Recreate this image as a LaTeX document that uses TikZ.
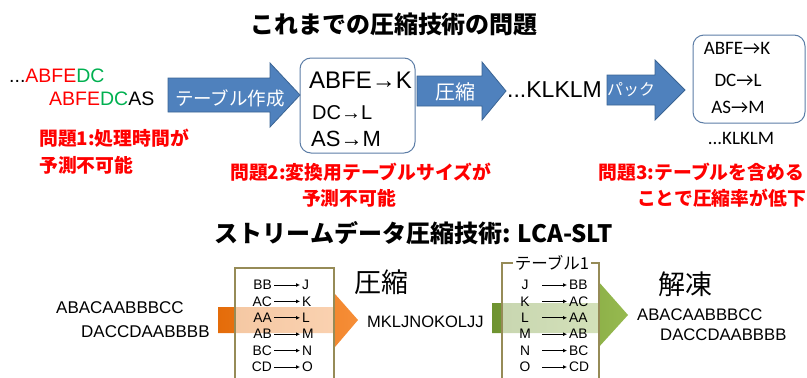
\documentclass[tikz,border=0pt]{standalone}
\usepackage{fontspec}
\setmainfont{Liberation Sans}
\newfontfamily\jp{Noto Sans CJK JP}
\newfontfamily\calfont{Carlito}
\usetikzlibrary{arrows.meta}
\definecolor{myred}{HTML}{FF0000}
\definecolor{mygreen}{HTML}{00B050}
\definecolor{arrowblue}{HTML}{4F81BD}
\definecolor{arrowblueline}{HTML}{3A6494}
\definecolor{boxline}{HTML}{5C7DA6}
\definecolor{tableline}{HTML}{968B57}
\definecolor{orangeL}{HTML}{E46C0A}
\definecolor{orangeR}{HTML}{F68E38}
\definecolor{greenL}{HTML}{6E9330}
\definecolor{greenR}{HTML}{97BA50}
\tikzset{
  titletext/.style={font=\jp\bfseries\fontsize{24}{28}\selectfont, inner sep=0pt},
  redtext/.style={font=\jp\bfseries\fontsize{18.8}{22}\selectfont, text=myred, inner sep=0pt},
  arrowlabel/.style={font=\jp\fontsize{18.5}{22}\selectfont, text=white, inner sep=0pt},
  bluearrow/.style={fill=arrowblue, draw=arrowblueline, line width=0.8pt},
  rbox/.style={draw=boxline, line width=1pt, rounded corners=11pt},
  tbox/.style={draw=tableline, line width=1.6pt, fill=white, fill opacity=0.62},
  tcell/.style={font=\fontsize{13.8}{15}\selectfont, inner sep=0pt},
  tarrow/.style={-{Latex[length=4pt,width=4pt]}, line width=0.8pt, shorten <=2pt, shorten >=2pt},
  seqtext/.style={font=\fontsize{17}{20}\selectfont, inner sep=0pt, anchor=west},
  bigjp/.style={font=\jp\fontsize{27}{30}\selectfont, inner sep=0pt},
  box2text/.style={inner sep=0pt, font=\calfont\fontsize{19}{21}\selectfont},
}
\begin{document}
\begin{tikzpicture}[x=1pt,y=-1pt]
\useasboundingbox (0,0) rectangle (807,378);

% ---------- top section ----------
\node[titletext] (title1) at (394,24) {これまでの圧縮技術の問題};

\node[anchor=west, inner sep=0pt, font=\fontsize{19.5}{22}\selectfont] (in1) at (9,76)
  {...{\color{myred}ABFE}{\color{mygreen}DC}};
\node[anchor=west, inner sep=0pt, font=\fontsize{19.5}{22}\selectfont] (in2) at (49,99)
  {{\color{myred}ABFE}{\color{mygreen}DC}AS};

% arrow 1
\filldraw[bluearrow] (168,78) -- (270,78) -- (270,63) -- (300,95) -- (270,127) -- (270,112) -- (168,112) -- cycle;
\node[arrowlabel] (a1) at (230,98) {テーブル作成};

% box 1
\draw[rbox] (300,58) rectangle (415,153);
\node[anchor=west, inner sep=0pt, font=\fontsize{24}{26}\selectfont] (b1r1) at (309,80) {ABFE→K};
\node[anchor=west, inner sep=0pt, font=\fontsize{20}{22}\selectfont] (b1r2) at (312,113) {DC→L};
\node[anchor=west, inner sep=0pt, font=\fontsize{22}{24}\selectfont] (b1r3) at (311,139) {AS→M};

% arrow 2
\filldraw[bluearrow] (417,76) -- (482,76) -- (482,62) -- (506,91) -- (482,120) -- (482,106) -- (417,106) -- cycle;
\node[arrowlabel, font=\jp\fontsize{20}{22}\selectfont] (a2) at (455,92) {圧縮};

\node[anchor=west, inner sep=0pt, font=\fontsize{23}{25}\selectfont] (klm) at (507,90) {...KLKLM};

% arrow 3
\filldraw[bluearrow] (607,75) -- (655,75) -- (655,60) -- (685,90) -- (655,120) -- (655,105) -- (607,105) -- cycle;
\node[arrowlabel, font=\jp\fontsize{16}{18}\selectfont] (a3) at (631,90) {パック};

% box 2
\draw[rbox] (693,35) rectangle (805,123);
\node[box2text] (b2r1) at (737,48) {ABFE→K};
\node[box2text] (b2r2) at (738,80) {DC→L};
\node[box2text] (b2r3) at (738,107) {AS→M};
\node[box2text] (b2r4) at (741,138) {...KLKLM};

% problems
\node[redtext, anchor=west] (p1a) at (39,138) {問題1:処理時間が};
\node[redtext, anchor=west] (p1b) at (39,165) {予測不可能};
\node[redtext, anchor=west] (p2a) at (230,172) {問題2:変換用テーブルサイズが};
\node[redtext] (p2b) at (349,198) {予測不可能};
\node[redtext, anchor=east] (p3a) at (804,172) {問題3:テーブルを含める};
\node[redtext, anchor=east] (p3b) at (806,198) {ことで圧縮率が低下};

% ---------- bottom section ----------
\node[titletext] (title2) at (414,233) {ストリームデータ圧縮技術: LCA-SLT};

\node[seqtext] (s1) at (56,308) {ABACAABBBCC};
\node[seqtext] (s2) at (81,332) {DACCDAABBBB};

% orange arrow
\shade[left color=orangeL, right color=orangeR] (218,307) -- (335,307) -- (335,294) -- (358,320) -- (335,347) -- (335,333) -- (218,333) -- cycle;

% table 1
\draw[tbox] (235,268) rectangle (334,390);
\foreach \i/\l/\r in {0/BB/J,1/AC/K,2/AA/L,3/AB/M,4/BC/N,5/CD/O}{
  \node[tcell, anchor=east] (tl\i) at (272,285+16.4*\i) {\l};
  \node[tcell, anchor=west] (tr\i) at (302,285+16.4*\i) {\r};
  \draw[tarrow] (tl\i.east) -- (tr\i.west);
}
\node[bigjp] (comp) at (381,282) {圧縮};
\node[seqtext, font=\fontsize{16.5}{19}\selectfont] (mid) at (367,322) {MKLJNOKOLJJ};

% green arrow
\shade[left color=greenL, right color=greenR] (492,303) -- (598,303) -- (598,281) -- (628,315) -- (598,348) -- (598,333) -- (492,333) -- cycle;

% table 2
\draw[tbox] (502,263) rectangle (599,390);
\node[font=\jp\fontsize{16.5}{18}\selectfont, fill=white, inner xsep=1.5pt, inner ysep=0pt] (t2title) at (552,263) {テーブル1};
\foreach \i/\l/\r in {0/J/BB,1/K/AC,2/L/AA,3/M/AB,4/N/BC,5/O/CD}{
  \node[tcell] (ul\i) at (525,285+16.4*\i) {\l};
  \node[tcell, anchor=west] (ur\i) at (569,285+16.4*\i) {\r};
  \coordinate (us\i) at (540,285+16.4*\i);
  \draw[tarrow] (us\i) -- (ur\i.west);
}
\node[bigjp] (decomp) at (685,284) {解凍};
\node[seqtext, font=\fontsize{16.7}{19}\selectfont] (d1) at (637,315) {ABACAABBBCC};
\node[seqtext, font=\fontsize{16.7}{19}\selectfont] (d2) at (660,335) {DACCDAABBBB};
\end{tikzpicture}
\end{document}
